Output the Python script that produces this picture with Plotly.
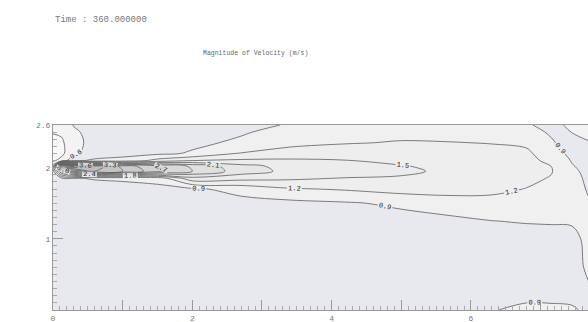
import plotly.graph_objects as go

# Sample locations (m)
x_pos = [0.0, 0.12, 0.3, 0.6, 1.0, 1.5, 2.0, 2.7, 3.4, 4.2, 5.0, 5.7, 6.3, 6.8, 7.15, 7.45, 7.7]
y_pos = [0.0, 0.2, 0.6, 1.0, 1.25, 1.5, 1.7, 1.85, 1.95, 2.02, 2.1, 2.2, 2.35, 2.5, 2.6]

# Velocity magnitude (m/s), one row per entry of y_pos
speed = [
    [0.72, 0.72, 0.72, 0.72, 0.72, 0.72, 0.72, 0.72, 0.72, 0.73, 0.75, 0.78, 0.88, 0.98, 0.97, 0.93, 0.85],
    [0.72, 0.72, 0.72, 0.72, 0.72, 0.72, 0.72, 0.72, 0.72, 0.73, 0.74, 0.75, 0.80, 0.82, 0.82, 0.84, 0.86],
    [0.72, 0.72, 0.72, 0.72, 0.72, 0.72, 0.72, 0.72, 0.72, 0.73, 0.74, 0.74, 0.75, 0.75, 0.76, 0.80, 0.95],
    [0.74, 0.74, 0.74, 0.74, 0.74, 0.74, 0.74, 0.74, 0.74, 0.75, 0.76, 0.77, 0.78, 0.78, 0.78, 0.80, 1.00],
    [0.75, 0.75, 0.75, 0.75, 0.75, 0.75, 0.75, 0.76, 0.77, 0.78, 0.80, 0.82, 0.895, 0.92, 0.93, 0.94, 0.98],
    [0.75, 0.75, 0.76, 0.76, 0.76, 0.77, 0.78, 0.80, 0.82, 0.87, 0.95, 1.08, 1.10, 1.05, 1.00, 0.97, 0.91],
    [0.75, 0.77, 0.78, 0.78, 0.78, 0.82, 0.85, 1.00, 1.17, 1.23, 1.32, 1.30, 1.27, 1.19, 1.10, 0.97, 0.88],
    [0.76, 0.82, 0.88, 0.92, 0.95, 1.00, 1.70, 1.60, 1.55, 1.48, 1.47, 1.42, 1.36, 1.27, 1.18, 0.96, 0.86],
    [0.76, 2.20, 3.00, 3.60, 3.30, 2.80, 2.40, 1.95, 1.72, 1.70, 1.55, 1.45, 1.38, 1.30, 1.22, 0.95, 0.83],
    [0.75, 4.50, 4.20, 3.80, 3.20, 2.70, 2.35, 1.90, 1.70, 1.65, 1.52, 1.42, 1.37, 1.30, 1.20, 0.92, 0.80],
    [0.25, 0.40, 0.85, 0.95, 1.00, 1.30, 1.50, 1.55, 1.55, 1.51, 1.42, 1.37, 1.33, 1.28, 1.13, 0.88, 0.76],
    [0.18, 0.22, 0.55, 0.74, 0.80, 0.84, 0.93, 1.22, 1.32, 1.38, 1.33, 1.30, 1.28, 1.25, 1.05, 0.82, 0.70],
    [0.20, 0.24, 0.52, 0.69, 0.74, 0.78, 0.84, 0.95, 1.12, 1.18, 1.22, 1.21, 1.19, 1.15, 0.95, 0.72, 0.61],
    [0.32, 0.35, 0.57, 0.67, 0.71, 0.74, 0.78, 0.87, 1.00, 1.10, 1.12, 1.10, 1.08, 1.05, 0.85, 0.59, 0.55],
    [0.45, 0.50, 0.61, 0.66, 0.70, 0.72, 0.75, 0.82, 0.92, 1.02, 1.03, 1.02, 1.00, 0.95, 0.75, 0.50, 0.45],
]

# Contour levels
level_start, level_end, level_step = 0.3, 4.5, 0.3

# Flood colour for each band, lowest band first
band_colors = [
    "#f8f8f8", "#f3f3f3", "#e8e8ef", "#f0f0f0", "#eeeeef", "#ececec",
    "#e6e6e6", "#e0e0e0", "#d9d9d9", "#d2d2d2", "#cbcbcb", "#c4c4c4",
    "#bdbdbd", "#b6b6b6", "#afafaf", "#a8a8a8",
]

# Axis ticks
x_tick_vals = [0, 1, 2, 3, 4, 5, 6, 7]
x_tick_text = ["0", "", "2", "", "4", "", "6", ""]
y_tick_vals = [0, 1, 2, 2.6]
y_tick_text = ["", "1", "2", "2.6"]

n = len(band_colors) - 1
colorscale = [[i / n, c] for i, c in enumerate(band_colors)]

fig = go.Figure(
    go.Contour(
        x=x_pos,
        y=y_pos,
        z=speed,
        autocontour=False,
        contours=dict(
            start=level_start,
            end=level_end,
            size=level_step,
            coloring="fill",
            showlabels=True,
            labelfont=dict(size=7, color="#222222", family="Liberation Mono"),
            labelformat=".1f",
        ),
        colorscale=colorscale,
        line=dict(color="#5e5e5e", width=0.8, smoothing=1.0),
        showscale=False,
        hoverinfo="skip",
    )
)

tick_font = dict(family="Liberation Mono", size=8, color="#777777")

fig.update_xaxes(
    range=[0, 7.68],
    tickvals=x_tick_vals,
    ticktext=x_tick_text,
    ticks="inside",
    ticklen=10,
    tickcolor="#999999",
    tickfont=tick_font,
    minor=dict(dtick=0.1, ticks="inside", ticklen=4, tickcolor="#aaaaaa"),
    showline=True,
    linecolor="#999999",
    mirror=True,
    showgrid=False,
    zeroline=False,
)
fig.update_yaxes(
    range=[0, 2.6],
    tickvals=y_tick_vals,
    ticktext=y_tick_text,
    ticks="inside",
    ticklen=10,
    tickcolor="#999999",
    tickfont=tick_font,
    minor=dict(dtick=0.1, ticks="inside", ticklen=4, tickcolor="#aaaaaa"),
    showline=True,
    linecolor="#999999",
    mirror=False,
    showgrid=False,
    zeroline=False,
)

fig.update_layout(
    width=588,
    height=322,
    margin=dict(l=53, r=0, t=125, b=12),
    paper_bgcolor="white",
    plot_bgcolor="#e8e8ef",
    showlegend=False,
    annotations=[
        dict(
            text="Time : 360.000000",
            xref="paper", yref="paper", x=0.0, y=1.568,
            xanchor="left", yanchor="middle", showarrow=False,
            font=dict(family="Liberation Mono", size=9, color="#777777"),
        ),
        dict(
            text="Magnitude of Velocity (m/s)",
            xref="paper", yref="paper", x=0.378, y=1.384,
            xanchor="center", yanchor="middle", showarrow=False,
            font=dict(family="Liberation Mono", size=6.5, color="#666666"),
        ),
    ],
)

fig.write_html("out.html")
